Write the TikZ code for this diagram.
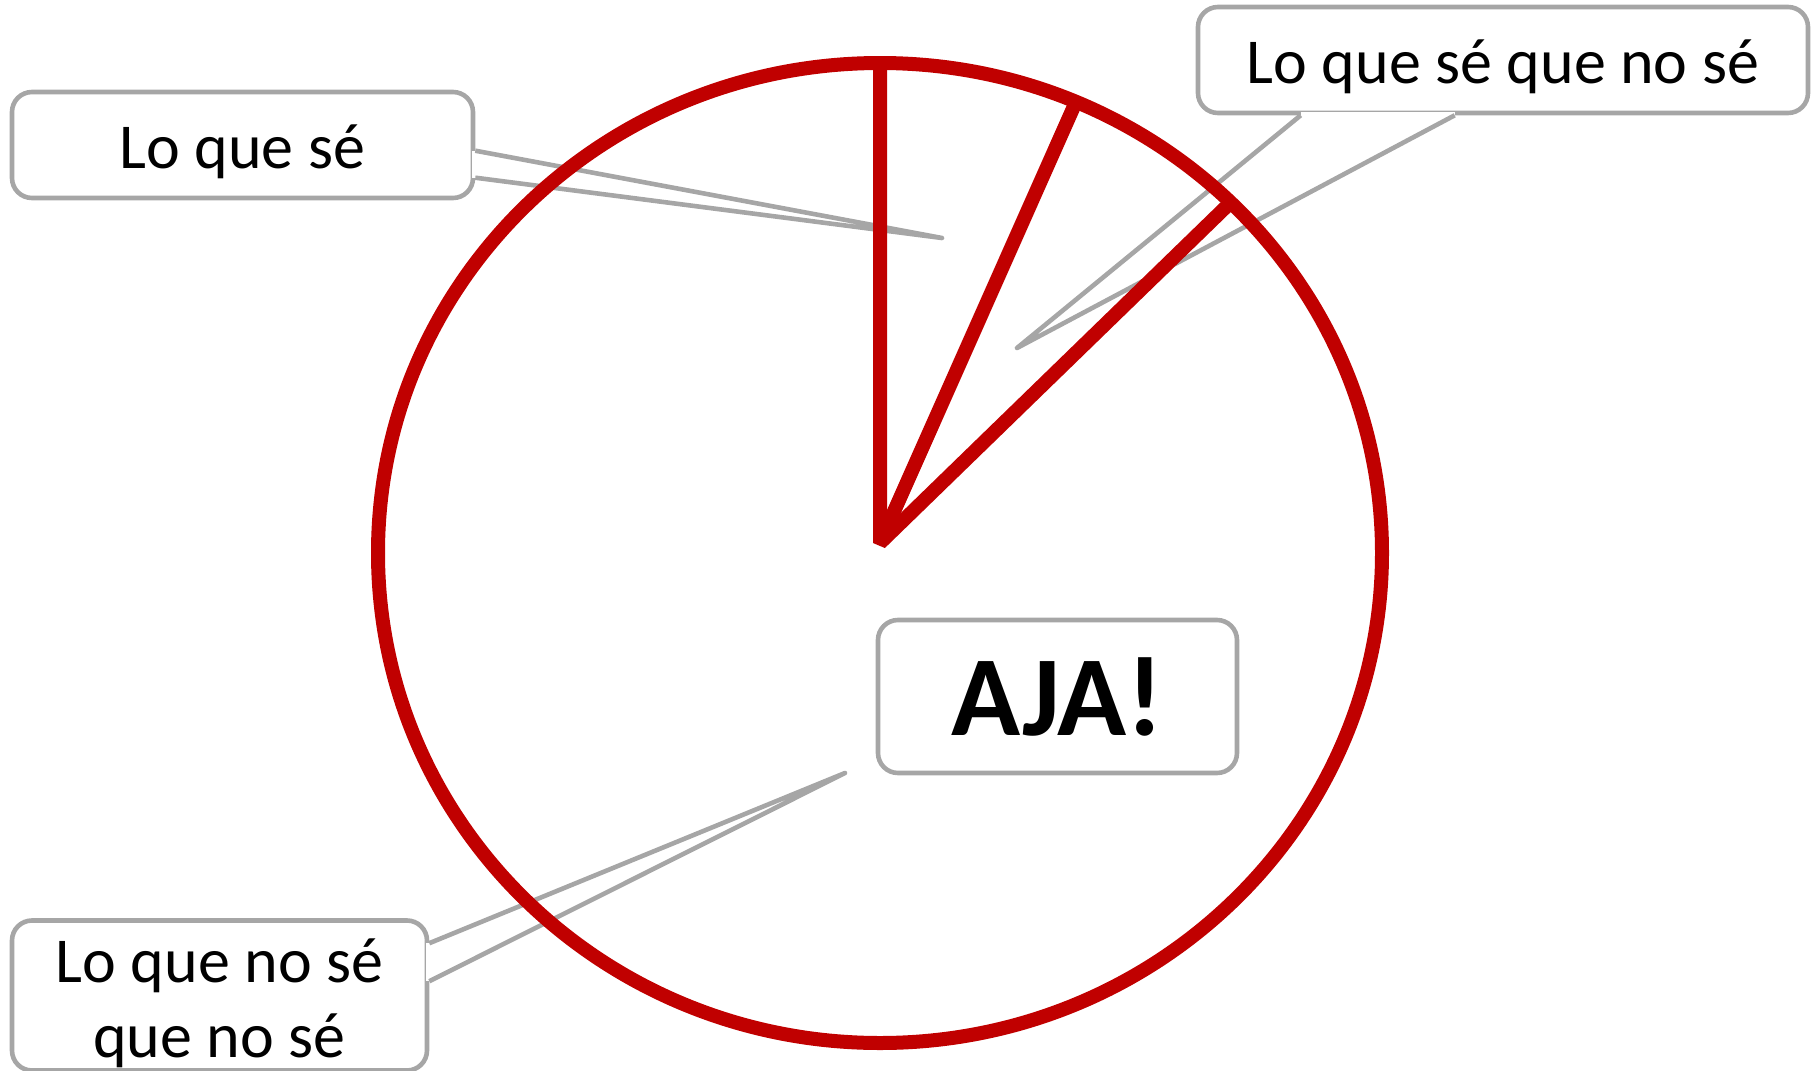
\documentclass[tikz,border=0pt]{standalone}
\usepackage{fontspec}
\setmainfont{Carlito}
\usetikzlibrary{calc,positioning}
\definecolor{pie red}{RGB}{192,0,0}
\definecolor{callout gray}{RGB}{166,166,166}
\tikzstyle{pie line}=[draw=pie red,line width=7pt,miter limit=1.5]
\tikzstyle{callout}=[draw=callout gray,line width=2.3pt,rounded corners=10pt,fill=white,align=center,inner sep=0pt]
\tikzstyle{label text}=[font=\fontsize{32}{37.5}\selectfont,text height=30pt,text depth=6.5pt]
\tikzstyle{pointer}=[draw=callout gray,line width=2.3pt,line join=round]

\begin{document}
\begin{tikzpicture}[x=0.5pt,y=-0.5pt]
		\useasboundingbox (0,0) rectangle (1812,1071);
		\clip (0,0) rectangle (1812,1071);

		% callouts
		\node(1)[callout,label text,minimum width=230.5pt,minimum height=53pt] at (242.5,145) {Lo que sé};
		\node(2)[callout,label text,minimum width=305pt,minimum height=53pt] at (1503,60) {Lo que sé que no sé};
		\node(3)[callout,label text,text height=68.5pt,minimum width=207.5pt,minimum height=73.5pt] at (219.5,995.5) {Lo que no sé\\que no sé};
		\node(4)[callout,minimum width=179.5pt,minimum height=76.5pt,font=\fontsize{57}{60}\selectfont\bfseries] at (1057.5,696.5) {AJA!};

		\coordinate(t1) at (942,238);
		\coordinate(t2) at (1017,348);
		\coordinate(t3) at (845,773);

		\draw[white,line width=3.5pt] ($(1.north east)+(0,61)$) -- ($(1.north east)+(0,88)$);
		\draw[pointer] ($(1.north east)+(0,61)$) -- (t1) -- ($(1.north east)+(0,88)$);
		\draw[white,line width=3.5pt] ($(2.south west)+(105,0)$) -- ($(2.south west)+(259,0)$);
		\draw[pointer] ($(2.south west)+(105,0)$) -- (t2) -- ($(2.south west)+(259,0)$);
		\draw[white,line width=3.5pt] ($(3.north east)+(0,25)$) -- ($(3.north east)+(0,63)$);
		\draw[pointer] ($(3.north east)+(0,25)$) -- (t3) -- ($(3.north east)+(0,63)$);

		% pie
		\coordinate(0) at (880,543);
		\coordinate(a) at (880,60);
		\coordinate(b) at (1075,104);
		\coordinate(c) at (1229,204);
		\draw[pie line] (880,553) ellipse [x radius=502,y radius=490];
		\draw[pie line] (a) -- (0) -- (c);
		\draw[pie line] (0) -- (b);

\end{tikzpicture}
\end{document}
